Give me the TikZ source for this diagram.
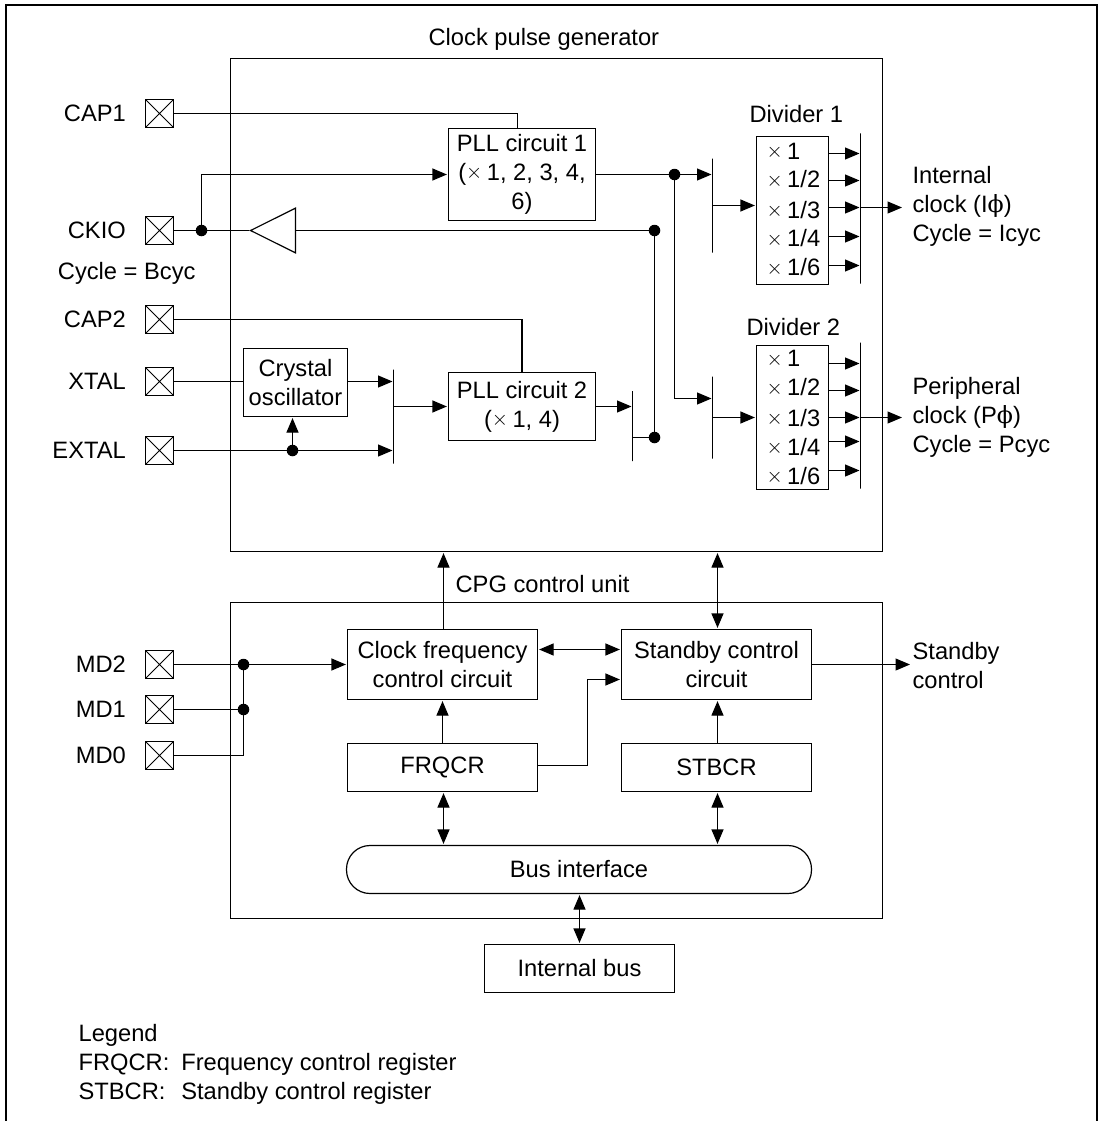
\documentclass[tikz,border=0pt]{standalone}
\usepackage{fontspec}
\setmainfont{Liberation Sans}
\newfontfamily\symfont{DejaVu Serif}
\usepackage{xcolor}
\usetikzlibrary{arrows.meta, positioning, shapes.geometric}

\newcommand{\tms}{\raisebox{1.7pt}{\fontsize{20}{20}\selectfont$\times$}\hspace{4.5pt}}

\begin{document}
\begin{tikzpicture}[
  x=1pt, y=-1pt,
  line width=1.2pt,
  every node/.style={font=\fontsize{23.7}{29}\selectfont},
  box/.style={draw, align=center, inner sep=0pt},
  busbox/.style={box, rounded corners=23.5pt},
  pad/.style={draw, minimum size=28pt, inner sep=0pt,
    path picture={\draw[line width=1pt] (path picture bounding box.north west) -- (path picture bounding box.south east)
      (path picture bounding box.north east) -- (path picture bounding box.south west);}},
  bar/.style={draw, minimum width=0pt, inner sep=0pt},
  dot/.style={circle, fill=black, minimum size=11.5pt, inner sep=0pt},
  txt/.style={anchor=base west, inner sep=0pt},
  pinlabel/.style={inner sep=0pt, left=18.5pt of #1},
  arrow/.style={-{Triangle[length=14.5pt,width=12pt]}, shorten >=1pt},
  biarrow/.style={{Triangle[length=14.5pt,width=12pt]}-{Triangle[length=14.5pt,width=12pt]}, shorten >=1pt, shorten <=1pt}
]

\path[use as bounding box, fill=white] (0,0) rectangle (1102,1121);
\draw[line width=2.2pt] (6,1121) -- (6,5) -- (1097,5) -- (1097,1121);

% clock pulse generator
\node[box, minimum width=652pt, minimum height=493pt] (cpg) at (556.5,305) {};
\node[txt] (cpgname) at (428,46) {Clock pulse generator};

\node[pad] (cap1) at (159.5,113.5) {};
\node[pad] (ckio) at (159.5,230.5) {};
\node[pad] (cap2) at (159.5,319.5) {};
\node[pad] (xtal) at (159.5,381.5) {};
\node[pad] (extal) at (159.5,450.5) {};
\node[pinlabel=cap1] (cap1name) {CAP1};
\node[pinlabel=ckio] (ckioname) {CKIO};
\node[pinlabel=cap2] (cap2name) {CAP2};
\node[pinlabel=xtal] (xtalname) {XTAL};
\node[pinlabel=extal] (extalname) {EXTAL};
\node[txt] (bcyc) at (57.3,279.3) {Cycle = Bcyc};

\node[box, minimum width=147pt, minimum height=92pt] (pll1) at (522,174.5) {PLL circuit 1\\(\tms 1, 2, 3, 4,\\6)};
\node[box, minimum width=147pt, minimum height=68pt] (pll2) at (522,406.5) {PLL circuit 2\\(\tms 1, 4)};
\node[box, minimum width=104pt, minimum height=68pt] (crystal) at (295.5,382.5) {Crystal\\oscillator};
\node[isosceles triangle, draw, shape border rotate=180, isosceles triangle apex angle=53,
  minimum height=45pt, inner sep=0pt] (buf) at (281.7,230.5) {};

\node[bar, minimum height=94pt] (muxin) at (393.5,416.5) {};
\node[bar, minimum height=70pt] (muxpll) at (632.5,426) {};
\node[bar, minimum height=94pt] (muxA) at (712.5,205.5) {};
\node[bar, minimum height=82pt] (muxB) at (712.5,417.5) {};

\node[box, minimum width=72pt, minimum height=148pt] (divA) at (792.5,210.5) {};
\node[box, minimum width=72pt, minimum height=144pt] (divB) at (792.5,417.5) {};
\node[bar, minimum height=150pt] (barA) at (860.5,208.5) {};
\node[bar, minimum height=146pt] (barB) at (860.5,415.5) {};
\node[txt] (divAname) at (749,123) {Divider 1};
\node[txt] (divBname) at (746,335) {Divider 2};

\foreach \i/\y/\t in {1/159/1, 2/187.7/1\slash 2, 3/218/1\slash 3, 4/246.7/1\slash 4, 5/275.7/1\slash 6}
  \node[txt] (rateA\i) at (766,\y) {\tms \t};
\foreach \i/\y/\t in {1/366.7/1, 2/395.7/1\slash 2, 3/426/1\slash 3, 4/455/1\slash 4, 5/484/1\slash 6}
  \node[txt] (rateB\i) at (766,\y) {\tms \t};

\node[anchor=west, inner sep=0pt, align=left] (clkA) at (912,206) {Internal\\clock (I{\symfont ϕ})\\Cycle = Icyc};
\node[anchor=west, inner sep=0pt, align=left] (clkB) at (912,417.5) {Peripheral\\clock (P{\symfont ϕ})\\Cycle = Pcyc};

\node[dot] (ckiodot) at (201.5,230.5) {};
\node[dot] (extaldot) at (292.5,450.5) {};
\node[dot] (splitdot) at (674.5,174.5) {};
\node[dot] (fbtop) at (654.5,230.5) {};
\node[dot] (fbbot) at (654.5,437.5) {};

\coordinate (capin) at (517.5,128.5);
\coordinate (muxBin) at (712.5,398.5);
\coordinate (outA) at (903,207.5);
\coordinate (outB) at (903,417.5);

\draw (cap1.east) -| (capin);
\draw (cap2.east) -| (pll2.north);
\draw (ckio.east) -- (buf.apex);
\draw[arrow] (ckiodot.center) |- (pll1.west);
\draw (buf.lower side) -- (fbtop.center) -- (fbbot.center) -- (fbbot -| muxpll);
\draw (xtal.east) -- (xtal -| crystal.west);
\draw[arrow] (xtal -| crystal.east) -- (xtal -| muxin);
\draw[arrow] (extal.east) -- (extal -| muxin);
\draw[arrow] (extaldot.center) -- (crystal.south -| extaldot);
\draw[arrow] (muxin |- pll2.west) -- (pll2.west);
\draw[arrow] (pll2.east) -- (muxpll |- pll2.east);
\draw[arrow] (pll1.east) -- (muxA |- pll1.east);
\draw[arrow] (splitdot.center) |- (muxBin);
\draw[arrow] (muxA) -- (muxA -| divA.west);
\draw[arrow] (muxB) -- (muxB -| divB.west);

\foreach \y in {153.5,180.5,207.5,236.5,265.5}
  \draw[arrow] (divA.east |- 0,\y) -- (barA |- 0,\y);
\foreach \y in {363.5,390.5,417.5,441.5,470.5}
  \draw[arrow] (divB.east |- 0,\y) -- (barB |- 0,\y);
\draw[arrow] (barA |- outA) -- (outA);
\draw[arrow] (barB |- outB) -- (outB);

% CPG control unit
\node[box, minimum width=652pt, minimum height=316pt] (ctrl) at (556.5,760.5) {};
\node[txt] (ctrlname) at (455,592.7) {CPG control unit};

\node[pad] (md2) at (159.5,664.5) {};
\node[pad] (md1) at (159.5,709.5) {};
\node[pad] (md0) at (159.5,755.5) {};
\node[pinlabel=md2] (md2name) {MD2};
\node[pinlabel=md1] (md1name) {MD1};
\node[pinlabel=md0] (md0name) {MD0};
\node[dot] (mdtop) at (243.5,664.5) {};
\node[dot] (mdmid) at (243.5,709.5) {};

\node[box, minimum width=190pt, minimum height=70pt] (freq) at (442.5,664.5) {Clock frequency\\control circuit};
\node[box, minimum width=190pt, minimum height=48pt] (frqcr) at (442.5,767.5) {FRQCR};
\node[box, minimum width=190pt, minimum height=70pt] (stby) at (716.5,664.5) {Standby control\\circuit};
\node[box, minimum width=190pt, minimum height=48pt] (stbcr) at (716.5,767.5) {STBCR};
\node[busbox, minimum width=465pt, minimum height=48pt] (bus) at (579,869.5) {Bus interface};
\node[box, minimum width=190pt, minimum height=48pt] (ibus) at (579.5,968.5) {Internal bus};
\node[anchor=west, inner sep=0pt, align=left] (stbyname) at (912,665.5) {Standby\\control};

\coordinate (turn) at (587.5,679.5);
\coordinate (stbyout) at (911,664.5);

\draw[arrow] (md2.east) -- (freq.west);
\draw (md1.east) -- (mdmid.center);
\draw (md0.east) -| (mdtop.center);
\draw[arrow] ([xshift=1pt]freq.north) -- ([xshift=1pt]freq.north |- cpg.south);
\draw[biarrow] (freq.east |- 0,649.5) -- (stby.west |- 0,649.5);
\draw[arrow] (frqcr) -- (freq);
\draw[arrow] ([yshift=2pt]frqcr.east) -| (turn) -- (turn -| stby.west);
\draw[arrow] ([xshift=1pt]stbcr.north) -- ([xshift=1pt]stby.south);
\draw[biarrow] ([xshift=1pt]stby.north) -- ([xshift=1pt]stby.north |- cpg.south);
\draw[arrow] (stby.east) -- (stbyout);
\draw[biarrow] ([xshift=1pt]frqcr.south) -- ([xshift=1pt]frqcr.south |- bus.north);
\draw[biarrow] ([xshift=1pt]stbcr.south) -- ([xshift=1pt]stbcr.south |- bus.north);
\draw[biarrow] (ibus.north) -- (ibus.north |- bus.south);

% legend
\node[txt] (legend) at (78,1041.7) {Legend};
\node[txt] (lgfrq) at (78,1070) {FRQCR:};
\node[txt] (lgstb) at (78,1099.3) {STBCR:};
\node[txt] (lgfrqtxt) at (180.7,1070) {Frequency control register};
\node[txt] (lgstbtxt) at (180.7,1099.3) {Standby control register};

\end{tikzpicture}
\end{document}
